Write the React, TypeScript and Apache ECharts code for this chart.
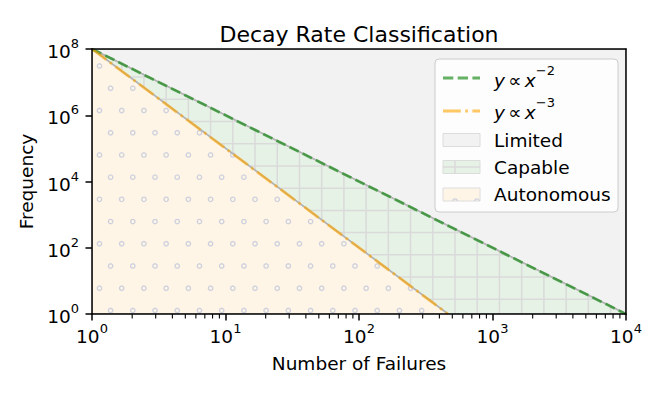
import React, { useEffect, useRef } from "react";
import * as echarts from "echarts";

// ---------- data ----------
const TITLE = "Decay Rate Classification";
const X_LABEL = "Number of Failures";
const Y_LABEL = "Frequency";
const X_RANGE = [1, 10000];
const Y_RANGE = [1, 100000000];
const X_MINOR = [
  2, 3, 4, 5, 6, 7, 8, 9,
  20, 30, 40, 50, 60, 70, 80, 90,
  200, 300, 400, 500, 600, 700, 800, 900,
  2000, 3000, 4000, 5000, 6000, 7000, 8000, 9000,
];
// y ∝ x^-2 : from (1, 1e8) to (1e4, 1)
const QUAD_X = [1, 10000];
const QUAD_Y = [100000000, 1];
// y ∝ x^-3 : from (1, 1e8) to (464.16, 1)
const CUBE_X = [1, 464.16];
const CUBE_Y = [100000000, 1];
// region polygons (data space)
const LIMITED_X = [1, 10000, 10000];
const LIMITED_Y = [100000000, 100000000, 1];
const CAPABLE_X = [1, 10000, 464.16];
const CAPABLE_Y = [100000000, 1, 1];
const AUTO_X = [1, 464.16, 1];
const AUTO_Y = [100000000, 1, 1];
const REGION_NAMES = ["Limited", "Capable", "Autonomous"];

// ---------- styles ----------
const FONT = "'DejaVu Sans', sans-serif";
const FS = 18.5;
const GREEN = "rgba(0,128,0,0.6)";
const ORANGE = "rgba(255,165,0,0.6)";
const FILLS = ["#f2f2f2", "#e6f2e6", "#fff5e6"];
const EDGE = "#b3b3b3";
const HATCH_COLOR = "#dadada";
const DOT_COLOR = "#cfd2de";
const HATCH = 22.22;

const zip = (xs: number[], ys: number[]) => xs.map((x, i) => [x, ys[i]]);
const REGION_POLYS = [zip(LIMITED_X, LIMITED_Y), zip(CAPABLE_X, CAPABLE_Y), zip(AUTO_X, AUTO_Y)];

const supFmt = (v: number) => `{b|10}{e|${Math.round(Math.log10(v))}}`;
const rich = {
  b: { fontSize: FS, fontFamily: FONT, color: "#000", lineHeight: 24, verticalAlign: "bottom" },
  e: { fontSize: 13, fontFamily: FONT, color: "#000", lineHeight: 13, verticalAlign: "top" },
};

function crossV(poly: number[][], x: number) {
  const ys: number[] = [];
  for (let i = 0; i < poly.length; i++) {
    const a = poly[i], b = poly[(i + 1) % poly.length];
    if (a[0] === b[0]) continue;
    if ((a[0] - x) * (b[0] - x) <= 0) ys.push(a[1] + ((x - a[0]) * (b[1] - a[1])) / (b[0] - a[0]));
  }
  return ys.length >= 2 ? [Math.min(...ys), Math.max(...ys)] : null;
}
function crossH(poly: number[][], y: number) {
  const xs: number[] = [];
  for (let i = 0; i < poly.length; i++) {
    const a = poly[i], b = poly[(i + 1) % poly.length];
    if (a[1] === b[1]) continue;
    if ((a[1] - y) * (b[1] - y) <= 0) xs.push(a[0] + ((y - a[1]) * (b[0] - a[0])) / (b[1] - a[1]));
  }
  return xs.length >= 2 ? [Math.min(...xs), Math.max(...xs)] : null;
}
function inside(poly: number[][], x: number, y: number) {
  let c = false;
  for (let i = 0, j = poly.length - 1; i < poly.length; j = i++) {
    const a = poly[i], b = poly[j];
    if ((a[1] > y) !== (b[1] > y) && x < ((b[0] - a[0]) * (y - a[1])) / (b[1] - a[1]) + a[0]) c = !c;
  }
  return c;
}

function renderRegion(params: any, api: any) {
  const idx = api.value(2);
  const pts = REGION_POLYS[idx].map((p) => api.coord(p));
  const xs = pts.map((p) => p[0]), ys = pts.map((p) => p[1]);
  const x0 = Math.min(...xs), x1 = Math.max(...xs), y0 = Math.min(...ys), y1 = Math.max(...ys);
  const children: any[] = [
    { type: "polygon", shape: { points: pts }, style: { fill: FILLS[idx], stroke: "none" } },
  ];
  if (idx === 1) {
    for (let x = 10.6 + Math.ceil((x0 - 10.6) / HATCH) * HATCH; x <= x1; x += HATCH) {
      const r = crossV(pts, x);
      if (r && r[1] - r[0] > 0.5)
        children.push({ type: "line", shape: { x1: x, y1: r[0], x2: x, y2: r[1] }, style: { stroke: HATCH_COLOR, lineWidth: 1.5 } });
    }
    for (let y = 10.4 + Math.ceil((y0 - 10.4) / HATCH) * HATCH; y <= y1; y += HATCH) {
      const r = crossH(pts, y);
      if (r && r[1] - r[0] > 0.5)
        children.push({ type: "line", shape: { x1: r[0], y1: y, x2: r[1], y2: y }, style: { stroke: HATCH_COLOR, lineWidth: 1.5 } });
    }
  }
  if (idx === 2) {
    const k0 = Math.ceil((y0 - 21.6) / HATCH);
    for (let k = k0; 21.6 + k * HATCH <= y1 + 2; k++) {
      const y = 21.6 + k * HATCH;
      const off = k % 2 === 0 ? 10.6 : 21.7;
      for (let x = off + Math.ceil((x0 - 2 - off) / HATCH) * HATCH; x <= x1 + 2; x += HATCH) {
        if (inside(pts, x, Math.min(y, y1 - 0.5)))
          children.push({ type: "circle", shape: { cx: x, cy: y, r: 2.2 }, style: { fill: "none", stroke: DOT_COLOR, lineWidth: 1.4 } });
      }
    }
  }
  children.push({ type: "polygon", shape: { points: pts }, style: { fill: "none", stroke: EDGE, lineWidth: 1.6 } });
  return { type: "group", children };
}

function renderMinor(params: any, api: any) {
  const p = api.coord([api.value(0), api.value(1)]);
  return { type: "line", shape: { x1: p[0], y1: p[1], x2: p[0], y2: p[1] + 4.5 }, style: { stroke: "#000", lineWidth: 1.1 } };
}

const axisCommon = {
  type: "log",
  logBase: 10,
  z: 5,
  axisLine: { show: true, onZero: false, lineStyle: { color: "#000", width: 1.5 } },
  splitLine: { show: false },
  minorTick: { show: false },
  minorSplitLine: { show: false },
};

const mathRich = {
  i: { fontSize: FS, fontFamily: FONT, fontStyle: "italic", lineHeight: 26, verticalAlign: "bottom" },
  s: { fontSize: FS, fontFamily: FONT, lineHeight: 26, verticalAlign: "bottom" },
  e: { fontSize: 13, fontFamily: FONT, lineHeight: 13, verticalAlign: "top" },
};

const legendX = 435, legendY = 59;
const legendGraphic: any[] = [
  { type: "rect", shape: { x: legendX, y: legendY, width: 183, height: 153, r: 4 }, style: { fill: "rgba(255,255,255,0.8)", stroke: "#cccccc", lineWidth: 1 }, z: 100 },
  { type: "line", shape: { x1: 443, y1: 78, x2: 480, y2: 78 }, style: { stroke: GREEN, lineWidth: 2.8, lineDash: [10.3, 4.4] }, z: 101 },
  { type: "line", shape: { x1: 443, y1: 111, x2: 480, y2: 111 }, style: { stroke: ORANGE, lineWidth: 2.8, lineDash: [17.8, 4.4, 2.8, 4.4] }, z: 101 },
  { type: "text", x: 494, y: 77, z: 101, style: { text: "{i|y} {s|∝} {i|x}{e|−2}", textVerticalAlign: "middle", rich: mathRich } },
  { type: "text", x: 494, y: 109, z: 101, style: { text: "{i|y} {s|∝} {i|x}{e|−3}", textVerticalAlign: "middle", rich: mathRich } },
  // patches
  { type: "rect", shape: { x: 443, y: 133.5, width: 37, height: 13 }, style: { fill: FILLS[0], stroke: "#dcdcdc", lineWidth: 1 }, z: 101 },
  { type: "rect", shape: { x: 443, y: 160.5, width: 37, height: 13 }, style: { fill: FILLS[1], stroke: "#dcdcdc", lineWidth: 1 }, z: 101 },
  { type: "line", shape: { x1: 443, y1: 167, x2: 480, y2: 167 }, style: { stroke: HATCH_COLOR, lineWidth: 1.5 }, z: 102 },
  { type: "line", shape: { x1: 455, y1: 160.5, x2: 455, y2: 173.5 }, style: { stroke: HATCH_COLOR, lineWidth: 1.5 }, z: 102 },
  { type: "rect", shape: { x: 443, y: 188, width: 37, height: 13 }, style: { fill: FILLS[2], stroke: "#dcdcdc", lineWidth: 1 }, z: 101 },
  { type: "arc", shape: { cx: 455, cy: 201, r: 2.2, startAngle: Math.PI, endAngle: 2 * Math.PI }, style: { stroke: DOT_COLOR, lineWidth: 1.2, fill: "none" }, z: 102 },
  { type: "arc", shape: { cx: 477, cy: 201, r: 2.2, startAngle: Math.PI, endAngle: 2 * Math.PI }, style: { stroke: DOT_COLOR, lineWidth: 1.2, fill: "none" }, z: 102 },
  ...REGION_NAMES.map((n, i) => ({
    type: "text", x: 494, y: 140 + i * 27.2, z: 101,
    style: { text: n, fontSize: FS, fontFamily: FONT, fill: "#000", textVerticalAlign: "middle" },
  })),
  {
    type: "text", x: 359, y: 34, z: 101,
    style: { text: TITLE, fontSize: 22, fontFamily: FONT, fill: "#000", textAlign: "center", textVerticalAlign: "middle" },
  },
];

const option: any = {
  animation: false,
  backgroundColor: "#ffffff",
  grid: { left: 92, right: 38, top: 49, bottom: 85 },
  xAxis: [
    {
      ...axisCommon,
      position: "bottom",
      min: X_RANGE[0],
      max: X_RANGE[1],
      interval: 1,
      axisTick: { show: true, length: 6.5, lineStyle: { color: "#000", width: 1.5 } },
      axisLabel: { formatter: supFmt, rich, margin: 8 },
      name: X_LABEL,
      nameLocation: "middle",
      nameGap: 40,
      nameTextStyle: { fontSize: FS, fontFamily: FONT, color: "#000" },
    },
    {
      ...axisCommon,
      position: "top",
      min: X_RANGE[0],
      max: X_RANGE[1],
      axisTick: { show: false },
      axisLabel: { show: false },
    },
  ],
  yAxis: [
    {
      ...axisCommon,
      position: "left",
      min: Y_RANGE[0],
      max: Y_RANGE[1],
      interval: 2,
      axisTick: { show: true, length: 6.5, lineStyle: { color: "#000", width: 1.5 } },
      axisLabel: { formatter: supFmt, rich, margin: 13 },
      name: Y_LABEL,
      nameLocation: "middle",
      nameRotate: 90,
      nameGap: 46,
      nameTextStyle: { fontSize: FS, fontFamily: FONT, color: "#000" },
    },
    {
      ...axisCommon,
      position: "right",
      min: Y_RANGE[0],
      max: Y_RANGE[1],
      axisTick: { show: false },
      axisLabel: { show: false },
    },
  ],
  graphic: legendGraphic,
  series: [
    {
      type: "custom",
      name: "regions",
      z: 1,
      silent: true,
      clip: true,
      data: [[1, 1, 0], [1, 1, 1], [1, 1, 2]],
      renderItem: renderRegion,
    },
    {
      type: "line",
      name: "y ∝ x^-2",
      z: 3,
      silent: true,
      showSymbol: false,
      data: zip(QUAD_X, QUAD_Y),
      lineStyle: { color: GREEN, width: 2.8, type: [10.3, 4.4] },
    },
    {
      type: "line",
      name: "y ∝ x^-3",
      z: 3,
      silent: true,
      showSymbol: false,
      data: zip(CUBE_X, CUBE_Y),
      lineStyle: { color: ORANGE, width: 2.8, type: [17.8, 4.4, 2.8, 4.4] },
    },
    {
      type: "custom",
      name: "minorTicks",
      z: 6,
      silent: true,
      clip: false,
      data: X_MINOR.map((v) => [v, Y_RANGE[0]]),
      renderItem: renderMinor,
    },
  ],
};

export default function App() {
  const ref = useRef<HTMLDivElement>(null);
  useEffect(() => {
    document.body.style.margin = "0";
    const chart = echarts.init(ref.current!, null, { renderer: "svg" });
    chart.setOption(option);
    return () => chart.dispose();
  }, []);
  return <div ref={ref} style={{ width: 664, height: 399 }} />;
}
